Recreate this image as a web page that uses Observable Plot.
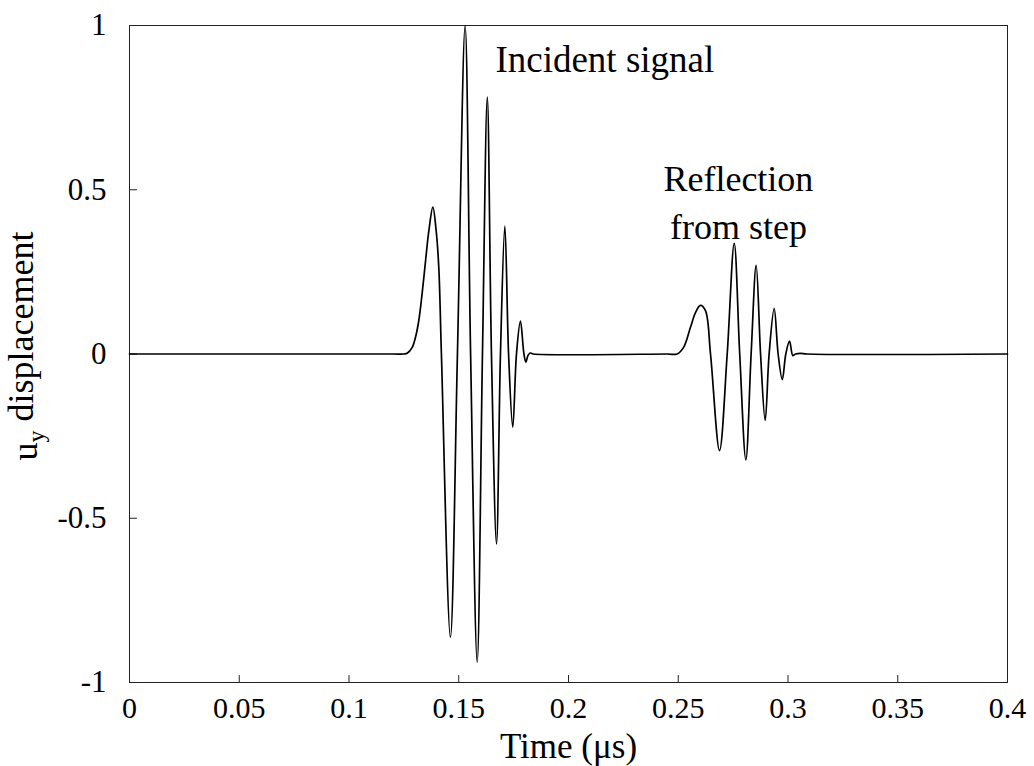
<!DOCTYPE html>
<html>
<head>
<meta charset="utf-8">
<script src="https://cdn.jsdelivr.net/npm/d3@7"></script>
<script src="https://cdn.jsdelivr.net/npm/@observablehq/plot@0.6"></script>
<style>
  html, body { margin: 0; padding: 0; background: #fff; }
  #chart { width: 1034px; height: 766px; }
</style>
</head>
<body>
<div id="chart"></div>
<script>
// ---- data ----
const time = [
  0, 0.1200, 0.1250, 0.1265, 0.1288, 0.1303, 0.1318, 0.1333, 0.1349, 0.1364,
  0.1382, 0.1397, 0.1409, 0.1421, 0.1462, 0.1494, 0.1529, 0.1554, 0.1584, 0.1608,
  0.1630, 0.1649, 0.1672, 0.1690, 0.1710, 0.1727, 0.1746, 0.1763, 0.1781, 0.1797,
  0.1806, 0.1815, 0.1825, 0.1840,
  0.2450, 0.2495, 0.2525, 0.2556, 0.2579, 0.2601, 0.2624, 0.2647, 0.2688, 0.2723,
  0.2755, 0.2780, 0.2808, 0.2832, 0.2855, 0.2875, 0.2896, 0.2914, 0.2937, 0.2955,
  0.2974, 0.2990, 0.3007, 0.3022, 0.3034, 0.3057, 0.3087, 0.4000
];
const uy = [
  0, 0, 0, 0.002, 0.020, 0.051, 0.102, 0.183, 0.285, 0.376,
  0.447, 0.376, 0.264, 0, -0.862, 0, 1.0, 0, -0.938, 0,
  0.782, 0, -0.578, 0, 0.389, 0, -0.223, 0, 0.100, 0,
  -0.025, -0.005, 0.003, 0,
  0, 0, 0.021, 0.082, 0.127, 0.148, 0.132, 0, -0.294, 0,
  0.337, 0, -0.322, 0, 0.270, 0, -0.202, 0, 0.138, 0,
  -0.078, 0, 0.039, -0.005, 0, 0.002, 0, 0
];
const xTicks = [0, 0.05, 0.1, 0.15, 0.2, 0.25, 0.3, 0.35, 0.4];
const xTickLabels = ["0", "0.05", "0.1", "0.15", "0.2", "0.25", "0.3", "0.35", "0.4"];
const yTicks = [-1, -0.5, 0, 0.5, 1];
const yTickLabels = ["-1", "-0.5", "0", "0.5", "1"];
const incidentNote = {t: 0.1667, v: 0.893, label: "Incident signal"};
const reflectionNote = {t: 0.2774, v: 0.469, label: "Reflection\nfrom step"};
const xTitle = "Time (\u03bcs)";
const yTitleMain = "u", yTitleSub = "y", yTitleRest = " displacement";

// ---- chart ----
const data = time.map((t, i) => ({t, v: uy[i]}));
const serif = "'Liberation Serif', 'Times New Roman', 'DejaVu Serif', serif";
const tickShape = {draw(context, l) { context.moveTo(0, 0); context.lineTo(0, -l); }};

const chart = Plot.plot({
  width: 1034,
  height: 766,
  marginLeft: 129,
  marginRight: 27,
  marginTop: 25,
  marginBottom: 84,
  style: {fontFamily: serif, background: "#fff", color: "#000", overflow: "visible"},
  x: {domain: [0, 0.4]},
  y: {domain: [-1, 1]},
  marks: [
    Plot.frame({stroke: "#222", strokeWidth: 1}),
    Plot.vector(xTicks, {x: d => d, frameAnchor: "bottom", rotate: 0, length: 7, anchor: "start", shape: tickShape, stroke: "#222", strokeWidth: 1}),
    Plot.vector(yTicks, {y: d => d, frameAnchor: "left", rotate: 90, length: 7, anchor: "start", shape: tickShape, stroke: "#222", strokeWidth: 1}),
    Plot.axisX(xTicks, {tickSize: 0, tickPadding: 14, fontSize: 30, label: null,
      tickFormat: d => xTickLabels[xTicks.indexOf(d)]}),
    Plot.axisY(yTicks, {tickSize: 0, tickPadding: 23, fontSize: 31, label: null,
      tickFormat: d => yTickLabels[yTicks.indexOf(d)]}),
    Plot.line(data, {x: "t", y: "v", curve: "catmull-rom", stroke: "#000", strokeWidth: 1.7}),
    Plot.text([incidentNote], {x: "t", y: "v", text: "label", textAnchor: "start", lineAnchor: "middle",
      fontSize: 37, fill: "#000"}),
    Plot.text([reflectionNote], {x: "t", y: "v", text: "label", textAnchor: "middle", lineAnchor: "middle",
      lineHeight: 1.34, fontSize: 36, fill: "#000"}),
    Plot.text([xTitle], {frameAnchor: "bottom", dy: 64, lineAnchor: "middle", fontSize: 35, fill: "#000"}),
    Plot.text([yTitleMain + yTitleSub + yTitleRest], {frameAnchor: "left", dx: -104, dy: -8, rotate: -90,
      textAnchor: "middle", lineAnchor: "middle", fontSize: 36, fill: "#000"})
  ]
});
document.getElementById("chart").appendChild(chart);

// render the subscript of the y title as real text with tspans
d3.select(chart).selectAll("text").each(function() {
  if (this.textContent === yTitleMain + yTitleSub + yTitleRest) {
    const t = d3.select(this);
    t.text(null);
    t.append("tspan").text(yTitleMain);
    t.append("tspan").attr("dy", "0.3em").attr("font-size", "24px").text(yTitleSub);
    t.append("tspan").attr("dy", "-0.3em").text(yTitleRest);
  }
});
</script>
</body>
</html>
